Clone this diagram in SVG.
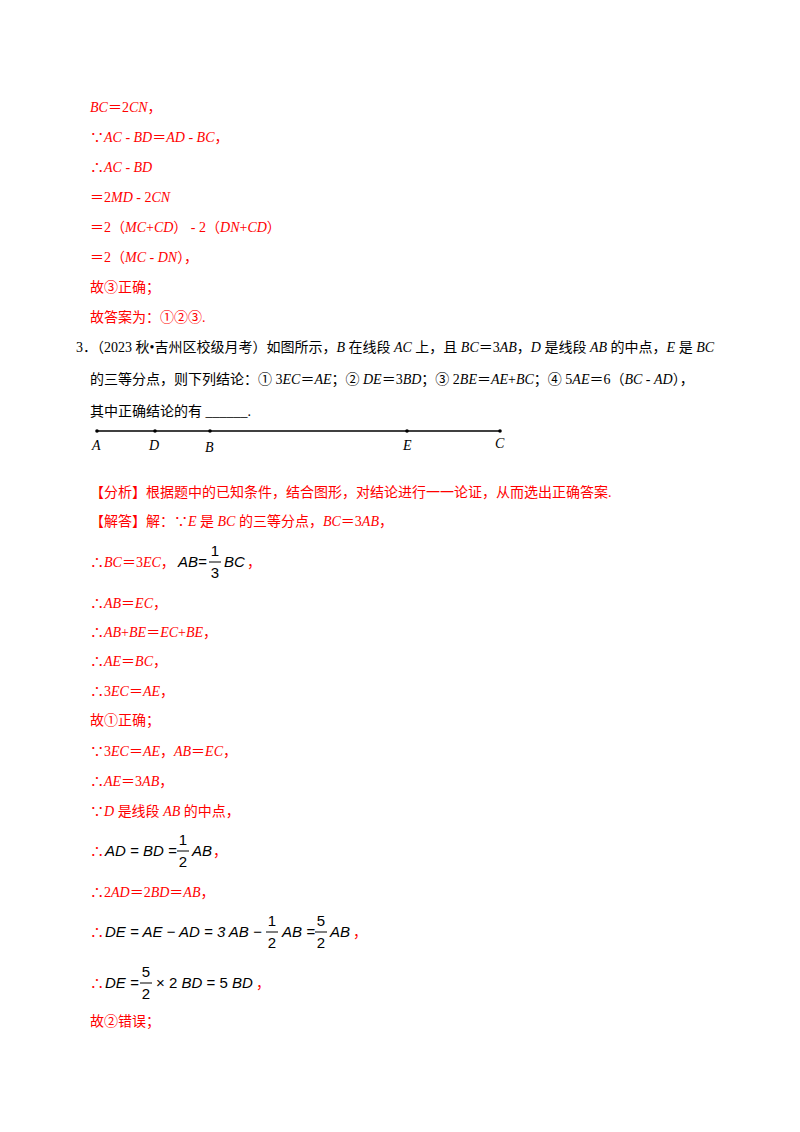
<svg xmlns="http://www.w3.org/2000/svg" width="800" height="1132" viewBox="0 0 800 1132">
<style>
text{font-family:"Liberation Serif","Noto Sans CJK SC",serif;font-size:14px}
.r{fill:#f00}.k{fill:#000}
.i{font-style:italic}
.m{font-family:"Liberation Sans",sans-serif;font-style:italic;fill:#000;font-size:15px}
.n{font-family:"Liberation Sans",sans-serif;fill:#000;font-size:15px}
.fl{stroke:#000;stroke-width:1}
</style>
<rect width="800" height="1132" fill="#fff"/>
<g id="prev" class="r">
<text x="90" y="112" class="r"><tspan class="i">BC</tspan>＝2<tspan class="i">CN</tspan>，</text>
<text x="90" y="142" class="r">∵<tspan class="i">AC</tspan> - <tspan class="i">BD</tspan>＝<tspan class="i">AD</tspan> - <tspan class="i">BC</tspan>，</text>
<text x="90" y="172" class="r">∴<tspan class="i">AC</tspan> - <tspan class="i">BD</tspan></text>
<text x="90" y="202" class="r">＝2<tspan class="i">MD</tspan> - 2<tspan class="i">CN</tspan></text>
<text x="90" y="232" class="r">＝2（<tspan class="i">MC</tspan>+<tspan class="i">CD</tspan>） - 2（<tspan class="i">DN</tspan>+<tspan class="i">CD</tspan>）</text>
<text x="90" y="262" class="r">＝2（<tspan class="i">MC</tspan> - <tspan class="i">DN</tspan>），</text>
<text x="90" y="292" class="r">故③正确；</text>
<text x="90" y="322" class="r">故答案为：①②③.</text>
</g>
<g id="question">
<text x="76" y="352" class="k">3．（2023 秋•吉州区校级月考）如图所示，<tspan class="i">B</tspan> 在线段 <tspan class="i">AC</tspan> 上，且 <tspan class="i">BC</tspan>＝3<tspan class="i">AB</tspan>，<tspan class="i">D</tspan> 是线段 <tspan class="i">AB</tspan> 的中点，<tspan class="i">E</tspan> 是 <tspan class="i">BC</tspan></text>
<text x="90" y="384" class="k">的三等分点，则下列结论：① 3<tspan class="i">EC</tspan>＝<tspan class="i">AE</tspan>；② <tspan class="i">DE</tspan>＝3<tspan class="i">BD</tspan>；③ 2<tspan class="i">BE</tspan>＝<tspan class="i">AE</tspan>+<tspan class="i">BC</tspan>；④ 5<tspan class="i">AE</tspan>＝6（<tspan class="i">BC</tspan> - <tspan class="i">AD</tspan>），</text>
<text x="90" y="416" class="k">其中正确结论的有 ______.</text>
</g>
<g id="figure">
<line x1="97" y1="431" x2="500" y2="431" stroke="#000" stroke-width="1.5"/>
<g fill="#000"><circle cx="97" cy="431" r="1.8"/><circle cx="155" cy="431" r="1.8"/><circle cx="210" cy="431" r="1.8"/><circle cx="407" cy="431" r="1.8"/><circle cx="500" cy="431" r="1.8"/></g>
<g><text x="92" y="450" class="k i">A</text><text x="149" y="450" class="k i">D</text><text x="205" y="452" class="k i">B</text><text x="403" y="450" class="k i">E</text><text x="495" y="448" class="k i">C</text></g>
</g>
<g id="solution">
<text x="90" y="497" class="r">【分析】根据题中的已知条件，结合图形，对结论进行一一论证，从而选出正确答案.</text>
<text x="90" y="526" class="r">【解答】解：∵<tspan class="i">E</tspan> 是 <tspan class="i">BC</tspan> 的三等分点，<tspan class="i">BC</tspan>＝3<tspan class="i">AB</tspan>，</text>
<text x="90" y="567" class="r">∴<tspan class="i">BC</tspan>＝3<tspan class="i">EC</tspan>，</text>
<text x="178" y="567" class="m">AB<tspan class="n">=</tspan></text>
<text x="215" y="556" class="n" text-anchor="middle">1</text><line x1="209" y1="562" x2="221" y2="562" class="fl"/><text x="215" y="578" class="n" text-anchor="middle">3</text>
<text x="224" y="567" class="m">BC</text><text x="247" y="567" class="r">，</text>
<text x="90" y="608" class="r">∴<tspan class="i">AB</tspan>＝<tspan class="i">EC</tspan>，</text>
<text x="90" y="637" class="r">∴<tspan class="i">AB</tspan>+<tspan class="i">BE</tspan>＝<tspan class="i">EC</tspan>+<tspan class="i">BE</tspan>，</text>
<text x="90" y="666" class="r">∴<tspan class="i">AE</tspan>＝<tspan class="i">BC</tspan>，</text>
<text x="90" y="696" class="r">∴3<tspan class="i">EC</tspan>＝<tspan class="i">AE</tspan>，</text>
<text x="90" y="725" class="r">故①正确；</text>
<text x="90" y="756" class="r">∵3<tspan class="i">EC</tspan>＝<tspan class="i">AE</tspan>，<tspan class="i">AB</tspan>＝<tspan class="i">EC</tspan>，</text>
<text x="90" y="786" class="r">∴<tspan class="i">AE</tspan>＝3<tspan class="i">AB</tspan>，</text>
<text x="90" y="816" class="r">∵<tspan class="i">D</tspan> 是线段 <tspan class="i">AB</tspan> 的中点，</text>
<text x="90" y="856" class="r">∴</text>
<text x="105" y="856" class="m">AD <tspan class="n">=</tspan> BD <tspan class="n">=</tspan></text>
<text x="183" y="845" class="n" text-anchor="middle">1</text><line x1="177" y1="851" x2="189" y2="851" class="fl"/><text x="183" y="867" class="n" text-anchor="middle">2</text>
<text x="192" y="856" class="m">AB</text><text x="213" y="856" class="r">，</text>
<text x="90" y="897" class="r">∴2<tspan class="i">AD</tspan>＝2<tspan class="i">BD</tspan>＝<tspan class="i">AB</tspan>，</text>
<text x="90" y="937" class="r">∴</text>
<text x="105" y="937" class="m">DE <tspan class="n">=</tspan> AE <tspan class="n">−</tspan> AD <tspan class="n">= 3</tspan> AB <tspan class="n">−</tspan></text>
<text x="272" y="926" class="n" text-anchor="middle">1</text><line x1="266" y1="932" x2="278" y2="932" class="fl"/><text x="272" y="948" class="n" text-anchor="middle">2</text>
<text x="282" y="937" class="m">AB <tspan class="n">=</tspan></text>
<text x="321" y="926" class="n" text-anchor="middle">5</text><line x1="315" y1="932" x2="327" y2="932" class="fl"/><text x="321" y="948" class="n" text-anchor="middle">2</text>
<text x="330" y="937" class="m">AB</text><text x="353" y="937" class="r">，</text>
<text x="90" y="988" class="r">∴</text>
<text x="105" y="988" class="m">DE <tspan class="n">=</tspan></text>
<text x="146" y="977" class="n" text-anchor="middle">5</text><line x1="140" y1="983" x2="152" y2="983" class="fl"/><text x="146" y="999" class="n" text-anchor="middle">2</text>
<text x="156" y="988" class="n">× 2 <tspan class="m">BD</tspan> = 5 <tspan class="m">BD</tspan></text><text x="256" y="988" class="r">，</text>
<text x="90" y="1026" class="r">故②错误；</text>
</g>
</svg>
